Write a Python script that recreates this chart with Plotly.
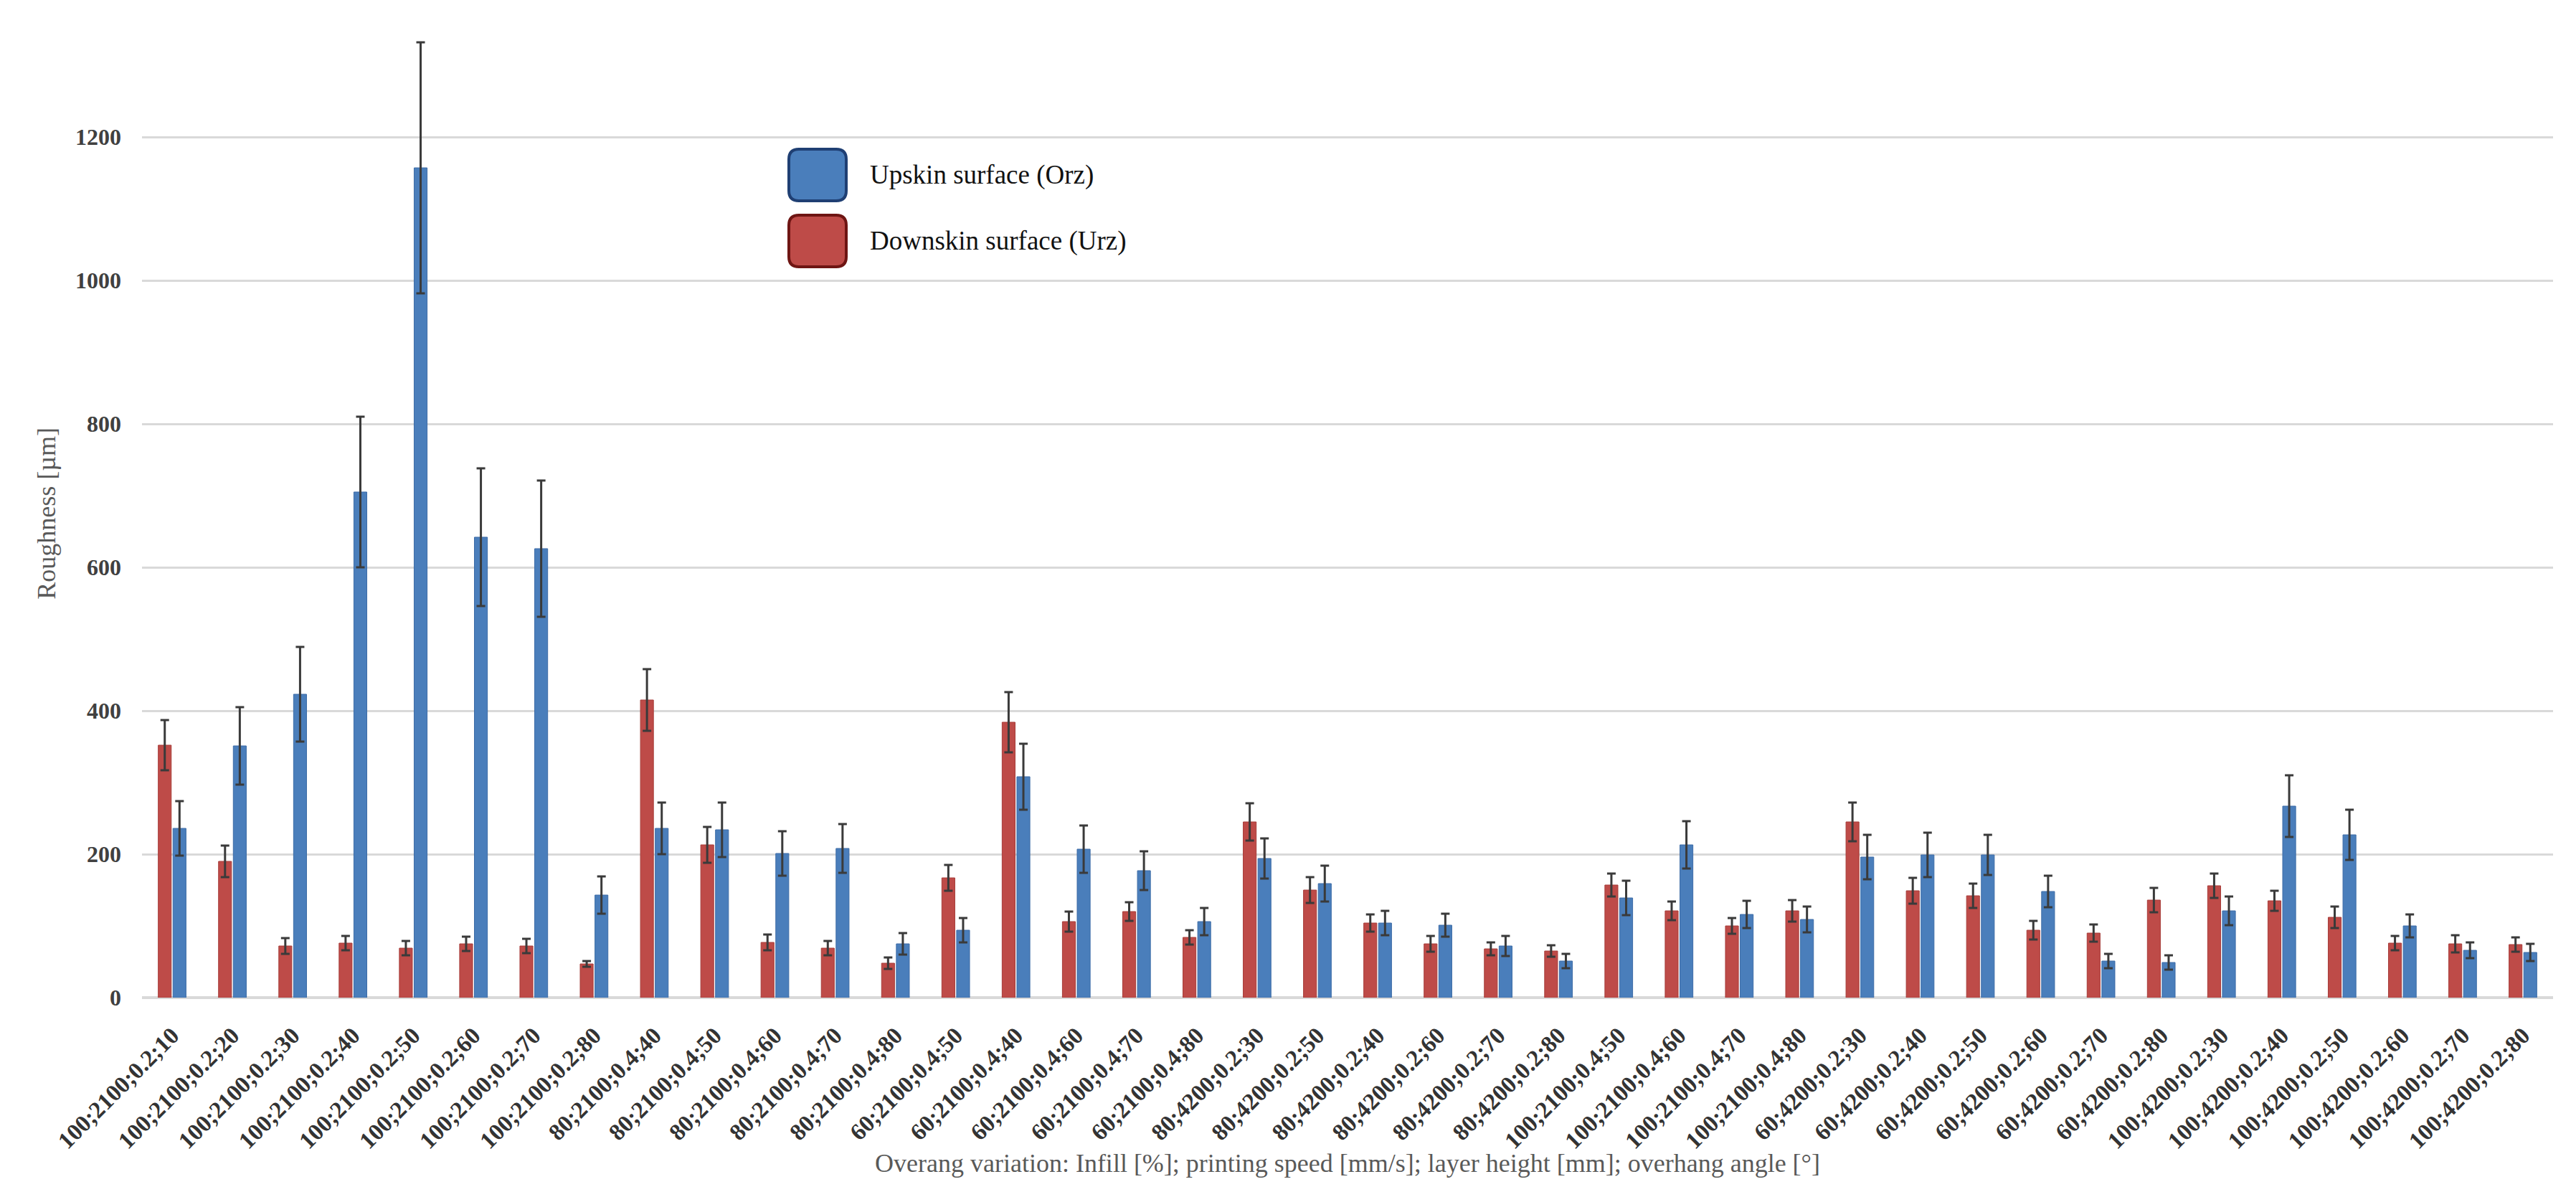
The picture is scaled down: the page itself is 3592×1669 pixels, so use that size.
import plotly.graph_objects as go

categories = [
    "100;2100;0.2;10", "100;2100;0.2;20", "100;2100;0.2;30", "100;2100;0.2;40",
    "100;2100;0.2;50", "100;2100;0.2;60", "100;2100;0.2;70", "100;2100;0.2;80",
    "80;2100;0.4;40", "80;2100;0.4;50", "80;2100;0.4;60", "80;2100;0.4;70",
    "80;2100;0.4;80", "60;2100;0.4;50", "60;2100;0.4;40", "60;2100;0.4;60",
    "60;2100;0.4;70", "60;2100;0.4;80", "80;4200;0.2;30", "80;4200;0.2;50",
    "80;4200;0.2;40", "80;4200;0.2;60", "80;4200;0.2;70", "80;4200;0.2;80",
    "100;2100;0.4;50", "100;2100;0.4;60", "100;2100;0.4;70", "100;2100;0.4;80",
    "60;4200;0.2;30", "60;4200;0.2;40", "60;4200;0.2;50", "60;4200;0.2;60",
    "60;4200;0.2;70", "60;4200;0.2;80", "100;4200;0.2;30", "100;4200;0.2;40",
    "100;4200;0.2;50", "100;4200;0.2;60", "100;4200;0.2;70", "100;4200;0.2;80",
]

downskin = [352, 190, 72, 76, 69, 75, 72, 47, 415, 213, 77, 69, 48, 167, 384, 106,
            120, 84, 245, 150, 104, 75, 68, 65, 157, 121, 100, 121, 245, 149, 142, 94,
            90, 136, 156, 135, 112, 76, 75, 74]
downskin_err = [35, 22, 11, 10, 10, 10, 10, 4, 43, 25, 11, 10, 8, 18, 42, 14,
                13, 10, 26, 18, 12, 11, 9, 8, 16, 13, 11, 15, 27, 18, 17, 13,
                12, 17, 17, 14, 15, 10, 12, 10]

upskin = [236, 351, 423, 705, 1157, 642, 626, 143, 236, 234, 201, 208, 75, 94, 308, 207,
          177, 106, 194, 159, 104, 101, 72, 51, 139, 213, 116, 109, 196, 199, 199, 148,
          51, 49, 121, 267, 227, 100, 66, 63]
upskin_err = [38, 54, 66, 105, 175, 96, 95, 26, 36, 38, 31, 34, 15, 17, 46, 33,
              27, 19, 28, 25, 17, 16, 14, 10, 24, 33, 19, 18, 31, 31, 28, 22,
              10, 10, 20, 43, 35, 16, 11, 12]

y_ticks = [0, 200, 400, 600, 800, 1000, 1200]

series_names = ["Upskin surface (Orz)", "Downskin surface (Urz)"]

W, H = 3592, 1669
ML, MR, MT, MB = 190, 40, 33, 286
PW, PH = W - ML - MR, H - MT - MB

BLUE, BLUE_EDGE, BLUE_LEG_EDGE = "#4A7EBB", "#3C6BA6", "#1F3F73"
RED, RED_EDGE, RED_LEG_EDGE = "#BE4B48", "#A63C39", "#6E1513"
ERR = "#3A3A3A"
FONT = "Liberation Serif"

fig = go.Figure()
fig.add_trace(go.Bar(
    x=categories, y=downskin, name=series_names[1],
    marker=dict(color=RED, line=dict(color=RED_EDGE, width=1)),
    error_y=dict(type="data", array=downskin_err, color=ERR, thickness=3, width=6),
))
fig.add_trace(go.Bar(
    x=categories, y=upskin, name=series_names[0],
    marker=dict(color=BLUE, line=dict(color=BLUE_EDGE, width=1)),
    error_y=dict(type="data", array=upskin_err, color=ERR, thickness=3, width=6),
))


def px_to_paper(xp, yp):
    return (xp - ML) / PW, (H - MB - yp) / PH


def rounded_rect(x0, y0, x1, y1, r):
    def P(x, y):
        px, py = px_to_paper(x, y)
        return f"{px:.6f},{py:.6f}"
    return (f"M {P(x0 + r, y0)} L {P(x1 - r, y0)} Q {P(x1, y0)} {P(x1, y0 + r)} "
            f"L {P(x1, y1 - r)} Q {P(x1, y1)} {P(x1 - r, y1)} "
            f"L {P(x0 + r, y1)} Q {P(x0, y1)} {P(x0, y1 - r)} "
            f"L {P(x0, y0 + r)} Q {P(x0, y0)} {P(x0 + r, y0)} Z")


legend_items = [
    (series_names[0], BLUE, BLUE_LEG_EDGE, 200, 272),
    (series_names[1], RED, RED_LEG_EDGE, 292, 364),
]
for name, fill, edge, ya, yb in legend_items:
    fig.add_shape(type="path", xref="paper", yref="paper",
                  path=rounded_rect(1092, ya, 1172, yb, 14),
                  fillcolor=fill, line=dict(color=edge, width=4), layer="above")
    tx, ty = px_to_paper(1203, (ya + yb) / 2)
    fig.add_annotation(x=tx, y=ty, xref="paper", yref="paper", text=name,
                       showarrow=False, xanchor="left", yanchor="middle",
                       font=dict(family=FONT, size=37, color="#111111"))

# x-axis title
_, ty = px_to_paper(0, 1614)
fig.add_annotation(x=0.5, y=ty, xref="paper", yref="paper",
                   text="Overang variation: Infill [%]; printing speed [mm/s]; layer height [mm]; overhang angle [°]",
                   showarrow=False, xanchor="center", yanchor="middle",
                   font=dict(family=FONT, size=36, color="#595959"))

fig.update_layout(
    width=W, height=H,
    margin=dict(l=ML, r=MR, t=MT, b=MB, autoexpand=False),
    paper_bgcolor="white", plot_bgcolor="white",
    barmode="group", bargap=0.51, bargroupgap=0.12,
    showlegend=False,
    font=dict(family=FONT),
    xaxis=dict(
        type="category", range=[-0.5, len(categories) - 0.5],
        tickangle=-45, showgrid=False, showline=False, ticks="",
        ticklabelstandoff=26,
        tickfont=dict(family=FONT, size=33, color="#333333", weight="bold"),
    ),
    yaxis=dict(
        range=[0, 1350], tickvals=y_ticks, showline=False, ticks="",
        gridcolor="#D9D9D9", gridwidth=3,
        zeroline=True, zerolinecolor="#D9D9D9", zerolinewidth=4,
        ticklabelstandoff=28,
        tickfont=dict(family=FONT, size=32, color="#404040", weight="bold"),
        title=dict(text="Roughness [µm]", standoff=16,
                   font=dict(family=FONT, size=36, color="#595959")),
    ),
)

fig.write_html("out.html")
